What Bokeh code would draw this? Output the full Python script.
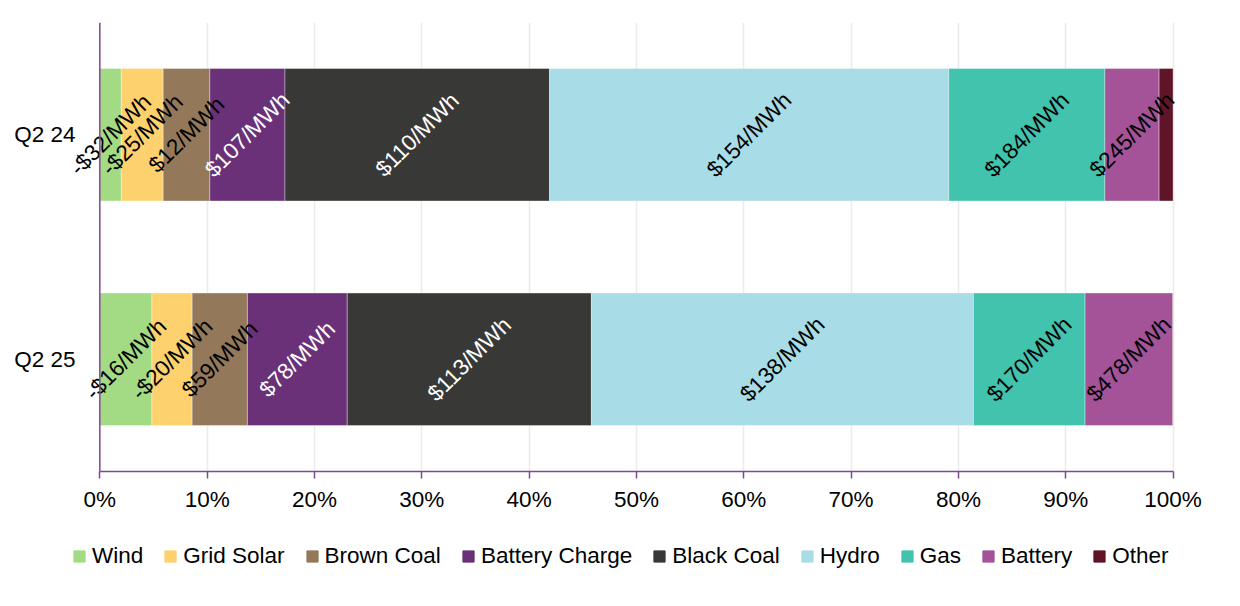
from bokeh.plotting import figure
from bokeh.models import (ColumnDataSource, FactorRange, Range1d, LabelSet,
                          PrintfTickFormatter, SingleIntervalTicker, Legend, Span)
from bokeh.layouts import column
from bokeh.core.properties import value
from bokeh.embed import file_html
from bokeh.resources import INLINE

# ---- data ----
categories = ["Q2 24", "Q2 25"]
fuels = ["Wind", "Grid Solar", "Brown Coal", "Battery Charge", "Black Coal",
         "Hydro", "Gas", "Battery", "Other"]
colors = ["#A3DA84", "#FDD16E", "#94785A", "#6A3078", "#383937",
          "#A8DCE7", "#42C3AD", "#A45399", "#5F1428"]

# share of volume (%) per quarter
wind = [2.0, 4.85]
grid_solar = [3.9, 3.75]
brown_coal = [4.35, 5.15]
battery_charge = [7.0, 9.3]
black_coal = [24.65, 22.75]
hydro = [37.2, 35.6]
gas = [14.55, 10.4]
battery = [5.05, 8.15]
other = [1.3, 0.05]

# price labels ($/MWh)
price_wind = [-32, -16]
price_grid_solar = [-25, -20]
price_brown_coal = [12, 59]
price_battery_charge = [107, 78]
price_black_coal = [110, 113]
price_hydro = [154, 138]
price_gas = [184, 170]
price_battery = [245, 478]
price_other = [None, None]

shares = [wind, grid_solar, brown_coal, battery_charge, black_coal,
          hydro, gas, battery, other]
prices = [price_wind, price_grid_solar, price_brown_coal, price_battery_charge,
          price_black_coal, price_hydro, price_gas, price_battery, price_other]
label_colors = ["black", "black", "black", "white", "white",
                "black", "black", "black", "white"]

FONT = "Liberation Sans"
FS = "22.5px"
PURPLE = "#7E4A8E"

data = {"cat": categories}
for f, s in zip(fuels, shares):
    data[f] = s
src = ColumnDataSource(data)

W = 1230
p = figure(width=W, height=530, output_backend="svg", toolbar_location=None,
           y_range=FactorRange(factors=list(reversed(categories)), range_padding=0),
           x_range=Range1d(-3.2, 100.6),
           min_border_left=65, min_border_right=W - 1179, min_border_top=22,
           min_border_bottom=59)
p.outline_line_color = None

renderers = p.hbar_stack(fuels, y="cat", height=0.59, color=colors, source=src,
                         line_color="white", line_alpha=0.35, line_width=1)

# labels
lx, ly, lt, lc = [], [], [], []
for i, cat in enumerate(categories):
    cum = 0.0
    for s, pr, c in zip(shares, prices, label_colors):
        mid = cum + s[i] / 2.0
        cum += s[i]
        if pr[i] is None:
            continue
        txt = ("-$%d/MWh" % abs(pr[i])) if pr[i] < 0 else ("$%d/MWh" % pr[i])
        lx.append(mid); ly.append(cat); lt.append(txt); lc.append(c)
lsrc = ColumnDataSource(dict(x=lx, y=ly, text=lt, color=lc))
labels = LabelSet(x="x", y="y", text="text", source=lsrc, angle=45,
                  angle_units="deg", text_align="center", text_baseline="middle",
                  text_font=value(FONT), text_font_size=value(FS),
                  text_color="color")
p.add_layout(labels)

# value axis line at 0 %
p.add_layout(Span(location=0, dimension="height", line_color=PURPLE,
                  line_width=1.5))

# axes
p.xaxis.ticker = SingleIntervalTicker(interval=10)
p.xaxis.formatter = PrintfTickFormatter(format="%d%%")
p.xaxis.bounds = (0, 100)
p.xaxis.axis_line_color = PURPLE
p.xaxis.axis_line_width = 1.5
p.xaxis.major_tick_line_color = PURPLE
p.xaxis.major_tick_line_width = 1.5
p.xaxis.major_tick_in = 0
p.xaxis.major_tick_out = 7
p.xaxis.minor_tick_line_color = None
p.xaxis.major_label_text_font = FONT
p.xaxis.major_label_text_font_size = FS
p.xaxis.major_label_text_color = "black"
p.xaxis.major_label_standoff = 8

p.yaxis.axis_line_color = None
p.yaxis.major_tick_line_color = None
p.yaxis.minor_tick_line_color = None
p.yaxis.major_tick_in = 0
p.yaxis.major_tick_out = 0
p.yaxis.major_label_text_font = FONT
p.yaxis.major_label_text_font_size = FS
p.yaxis.major_label_text_color = "black"
p.yaxis.major_label_standoff = -10

p.xgrid.grid_line_color = "#EBEBEB"
p.xgrid.grid_line_width = 1.5
p.ygrid.grid_line_color = None

# legend in its own strip below the chart (its bars are hidden)
lf = figure(width=W, height=60, output_backend="svg", toolbar_location=None,
            x_axis_type=None, y_axis_type=None, x_range=Range1d(0, 100),
            y_range=FactorRange(factors=list(reversed(categories))),
            min_border=0)
lf.outline_line_color = None
leg_renderers = lf.hbar_stack(fuels, y="cat", height=0.59, color=colors,
                              source=src)
for r in leg_renderers:
    r.visible = False
legend = Legend(items=[(f, [r]) for f, r in zip(fuels, leg_renderers)],
                orientation="horizontal", location=(7, 21),
                label_text_font=FONT, label_text_font_size=FS,
                label_text_color="black", label_height=22,
                label_standoff=6, glyph_width=14, glyph_height=14,
                spacing=20, padding=0, margin=0, border_line_color=None,
                background_fill_alpha=0, inactive_fill_alpha=0)
lf.add_layout(legend, "center")

layout = column(p, lf, spacing=0)
open("out.html", "w").write(file_html(layout, INLINE))
